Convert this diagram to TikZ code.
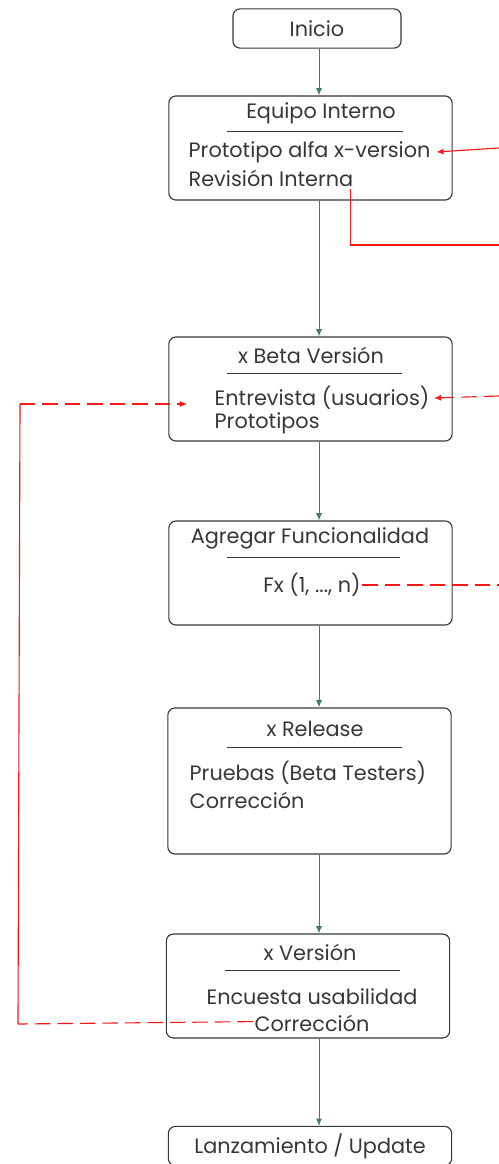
\documentclass[tikz,border=0pt]{standalone}
\usepackage{fontspec}
\setmainfont{Poppins}
\usetikzlibrary{arrows.meta}
\definecolor{flowgreen}{RGB}{58,128,92}
\definecolor{loopred}{RGB}{245,25,25}
\definecolor{inkgray}{RGB}{55,55,55}
\tikzset{%
  >={Latex[width=1.5mm,length=1.8mm]},
  % Specifications for style of nodes:
       stage/.style = {rectangle, rounded corners=5pt, draw=inkgray, line width=0.8pt,
                       minimum width=7.08cm, minimum height=2.6cm, inner sep=0pt},
    terminal/.style = {stage, minimum height=0.98cm},
       title/.style = {text=inkgray, inner sep=1pt},
        body/.style = {text=inkgray, inner sep=1pt, anchor=west},
       under/.style = {draw=inkgray, line width=0.7pt},
        flow/.style = {->, draw=flowgreen, line width=0.7pt},
        back/.style = {draw=loopred, line width=0.8pt},
    backdash/.style = {back, dash pattern=on 11pt off 5pt},
}

\begin{document}
\begin{tikzpicture}[x=0.025cm, y=-0.025cm,
    every node/.style={font=\fontsize{14.8}{17}\selectfont}]
  \useasboundingbox (0,0) rectangle (499,1164);
  % Specification of nodes (position, etc.)

  \node (inicio)   [terminal, minimum width=4.2cm] at (317,28.5) {};
  \node            [title] at (inicio) {Inicio};

  \node (equipo)   [stage] at (310.5,148) {};
  \node (equipoT)  [title] at (321,113) {Equipo Interno};
  \node (proto)    [body] at (187,152) {Prototipo alfa x-version};
  \node (revision) [body] at (187,178) {Revisión Interna};

  \node (beta)     [stage] at (310.5,389) {};
  \node (betaT)    [title] at (311,355) {x Beta Versión};
  \node (entrev)   [body] at (213,398) {Entrevista (usuarios)};
  \node (protos)   [body] at (213,423) {Prototipos};

  \node (agregar)  [stage] at (310.5,573) {};
  \node (agregarT) [title] at (310,538) {Agregar Funcionalidad};
  \node (fx)       [title] at (312,585) {Fx (1, ..., n)};

  \node (release)  [stage, minimum height=3.65cm] at (309.5,781) {};
  \node (releaseT) [title] at (315,729) {x Release};
  \node (pruebas)  [body] at (188,773) {Pruebas (Beta Testers)};
  \node (correc)   [body] at (188,800) {Corrección};

  \node (version)  [stage] at (308,986) {};
  \node (versionT) [title] at (310,952) {x Versión};
  \node (encuesta) [title] at (312,997) {Encuesta usabilidad};
  \node (correcV)  [title] at (312,1023) {Corrección};

  \node (lanza)    [terminal] at (310,1146) {};
  \node            [title] at (lanza) {Lanzamiento / Update};

  % underlines under the titles
  \draw[under] (227,131) -- (403,131);
  \draw[under] (227,373) -- (402,373);
  \draw[under] (227,557) -- (400,557);
  \draw[under] (227,747) -- (402,747);
  \draw[under] (225,970) -- (400,970);

  % main flow
  \draw[flow] (inicio.south -| 319,0) -- (equipo.north -| 319,0);
  \draw[flow] (equipo.south -| 319,0) -- (beta.north -| 319,0);
  \draw[flow] (beta.south -| 319,0) -- (agregar.north -| 319,0);
  \draw[flow] (agregar.south -| 319,0) -- (release.north -| 319,0);
  \draw[flow] (release.south -| 319,0) -- (version.north -| 319,0);
  \draw[flow] (version.south -| 319,0) -- (lanza.north -| 319,0);

  % feedback lines
  \coordinate (inA)     at (499,148);
  \coordinate (outA)    at (499,245);
  \coordinate (inB)     at (499,396);
  \coordinate (outC)    at (499,585);
  \coordinate (loopbot) at (18,1024);
  \coordinate (looptop) at (20,404);
  \coordinate (betain)  at (187,404);

  \draw[back, ->] (inA) -- ([xshift=3pt]proto.east);
  \draw[back] ([xshift=-3pt, yshift=-1pt]revision.south east) |- (outA);
  \draw[backdash, ->] (inB) -- ([xshift=2pt]entrev.east);
  \draw[backdash] (fx.east) -- (outC);
  \draw[backdash] ([yshift=1pt]correcV.west) -- (loopbot);
  \draw[back] (loopbot) -- (looptop);
  \draw[backdash, ->] (looptop) -- (betain);

\end{tikzpicture}
\end{document}
